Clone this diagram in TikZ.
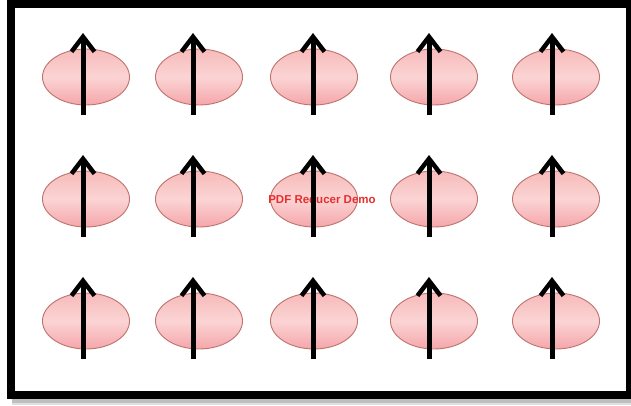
\documentclass[tikz,border=0pt]{standalone}
\usepackage{fontspec}
\setmainfont{Liberation Sans}
\usetikzlibrary{arrows.meta,shapes.geometric,calc}
\definecolor{pinkT}{RGB}{247,186,186}
\definecolor{pinkM}{RGB}{251,212,212}
\definecolor{pinkB}{RGB}{245,166,170}
\definecolor{rim}{RGB}{190,115,110}
\definecolor{wmred}{RGB}{232,45,45}
\begin{document}
\begin{tikzpicture}[x=1pt,y=-1pt,
  site/.style={ellipse, minimum width=87pt, minimum height=56pt, inner sep=0pt,
    draw=rim, line width=0.9pt, top color=pinkT, bottom color=pinkB, middle color=pinkM},
  spin/.style={line width=5pt, -{Straight Barb[length=15pt,width=23pt,line width=4.5pt]}},
  mark text/.style={text=wmred, font=\bfseries\fontsize{11.5}{12}\selectfont, inner sep=0pt}]
\useasboundingbox (0,0) rectangle (631,405);
\fill[white] (0,0) rectangle (631,405);
\fill[black!25] (12,398) rectangle (631,403);
\fill[black!12] (12,403) rectangle (631,405);
\draw[line width=8pt] (11,3.5) rectangle (630,395);
\foreach \r/\y in {1/77,2/199,3/321}{
  \foreach \c/\x in {1/86,2/199,3/314,4/434,5/556}{
    \node[site] (e\r\c) at (\x,\y) {};
  }
}
\node[mark text] (wm) at (322,199) {PDF Reducer Demo};
\foreach \r in {1,2,3}{
  \foreach \c/\d in {1/-3,2/-6,3/-1,4/-5,5/-4}{
    \coordinate (b\r\c) at ($(e\r\c.center)+(\d,38)$);
    \coordinate (t\r\c) at ($(e\r\c.center)+(\d,-44)$);
    \draw[spin] (b\r\c) -- (t\r\c);
  }
}
\end{tikzpicture}
\end{document}
